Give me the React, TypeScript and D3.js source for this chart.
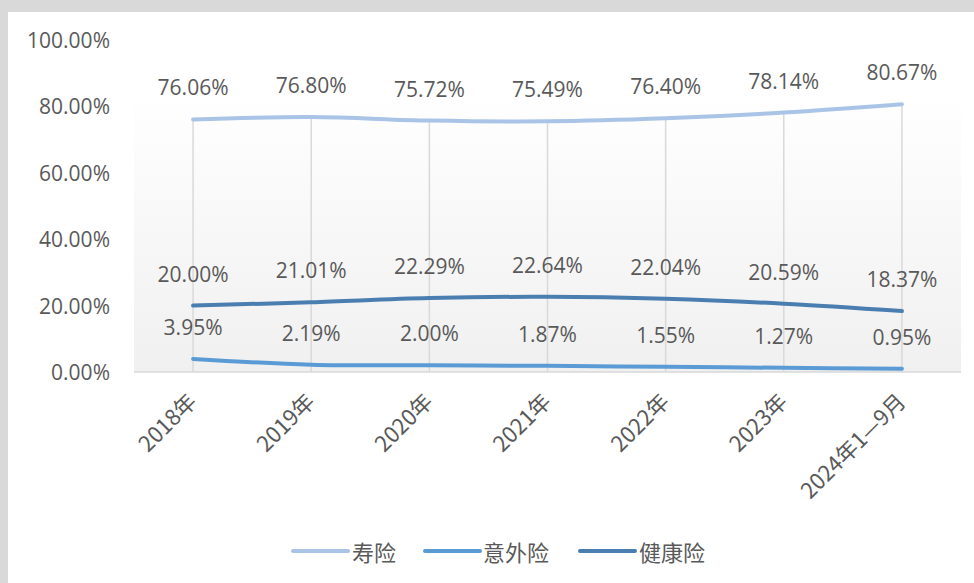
import React from "react";
import * as d3 from "d3";

const categories = ["2018年", "2019年", "2020年", "2021年", "2022年", "2023年", "2024年1—9月"];
const lifeValues = [76.06, 76.8, 75.72, 75.49, 76.4, 78.14, 80.67];
const accidentValues = [3.95, 2.19, 2.0, 1.87, 1.55, 1.27, 0.95];
const healthValues = [20.0, 21.01, 22.29, 22.64, 22.04, 20.59, 18.37];
const yTicks = [0, 20, 40, 60, 80, 100];
const seriesNames = ["寿险", "意外险", "健康险"];

const W = 974;
const H = 583;
const plotLeft = 134;
const plotRight = 961;
const plotTop = 40;
const plotBottom = 372;
const textColor = "#595959";
const numFont = "'Open Sans', 'Liberation Sans', sans-serif";
const cjkFont = "'Noto Sans CJK SC', 'Open Sans', sans-serif";

const colors = ["#a9c4e6", "#5b9bd5", "#4a7eb0"];

export default function App() {
  const x = d3.scaleBand<string>().domain(categories).range([plotLeft, plotRight]);
  const cx = (c: string) => (x(c) as number) + x.bandwidth() / 2;
  const y = d3.scaleLinear().domain([0, 100]).range([plotBottom, plotTop]);
  const series = [
    { name: seriesNames[0], values: lifeValues, color: colors[0] },
    { name: seriesNames[1], values: accidentValues, color: colors[1] },
    { name: seriesNames[2], values: healthValues, color: colors[2] },
  ];
  const line = d3
    .line<number>()
    .x((_, i) => cx(categories[i]))
    .y((v) => y(v))
    .curve(d3.curveCatmullRom.alpha(0.5));

  const legendItems = [
    { lx: 293, tx: 352 },
    { lx: 425, tx: 483 },
    { lx: 580, tx: 639 },
  ];

  return (
    <svg
      width={W}
      height={H}
      style={{ position: "absolute", left: 0, top: 0, display: "block" }}
    >
      <defs>
        <linearGradient id="plotGrad" x1="0" y1="0" x2="0" y2="1">
          <stop offset="0%" stopColor="#ffffff" />
          <stop offset="15%" stopColor="#ffffff" />
          <stop offset="100%" stopColor="#f0f0f0" />
        </linearGradient>
      </defs>
      <rect x={0} y={0} width={W} height={H} fill="#d9d9d9" />
      <rect x={8} y={12} width={W - 8} height={H - 12} fill="#ffffff" />
      <rect
        x={plotLeft}
        y={plotTop}
        width={plotRight - plotLeft}
        height={plotBottom - plotTop}
        fill="url(#plotGrad)"
      />
      {categories.map((c, i) => (
        <line
          key={c}
          x1={cx(c)}
          x2={cx(c)}
          y1={y(lifeValues[i])}
          y2={plotBottom}
          stroke="#d9d9d9"
          strokeWidth={1.5}
        />
      ))}
      <line x1={plotLeft} x2={plotRight} y1={plotBottom} y2={plotBottom} stroke="#d9d9d9" strokeWidth={1.5} />
      {yTicks.map((t) => (
        <text
          key={t}
          x={110}
          y={y(t)}
          textAnchor="end"
          dominantBaseline="central"
          fontFamily={numFont}
          fontSize={21}
          fill={textColor}
        >
          {t.toFixed(2)}%
        </text>
      ))}
      {categories.map((c) => (
        <text
          key={c}
          transform={`translate(${cx(c) - 2},${plotBottom + 24}) rotate(-45)`}
          textAnchor="end"
          dominantBaseline="central"
          fontFamily={cjkFont}
          fontSize={22}
          fill={textColor}
        >
          {c}
        </text>
      ))}
      {series.map((s) => (
        <path
          key={s.name}
          d={line(s.values) || ""}
          fill="none"
          stroke={s.color}
          strokeWidth={4}
          strokeLinecap="round"
        />
      ))}
      {series.map((s) =>
        s.values.map((v, i) => (
          <text
            key={s.name + i}
            x={cx(categories[i])}
            y={y(v) - 32}
            textAnchor="middle"
            dominantBaseline="central"
            fontFamily={numFont}
            fontSize={21}
            fill={textColor}
          >
            {v.toFixed(2)}%
          </text>
        ))
      )}
      {series.map((s, i) => (
        <g key={s.name}>
          <line
            x1={legendItems[i].lx}
            x2={legendItems[i].lx + 55}
            y1={551}
            y2={551}
            stroke={s.color}
            strokeWidth={4}
            strokeLinecap="round"
          />
          <text
            x={legendItems[i].tx}
            y={551}
            dominantBaseline="central"
            fontFamily={cjkFont}
            fontSize={22}
            fill={textColor}
          >
            {s.name}
          </text>
        </g>
      ))}
    </svg>
  );
}
